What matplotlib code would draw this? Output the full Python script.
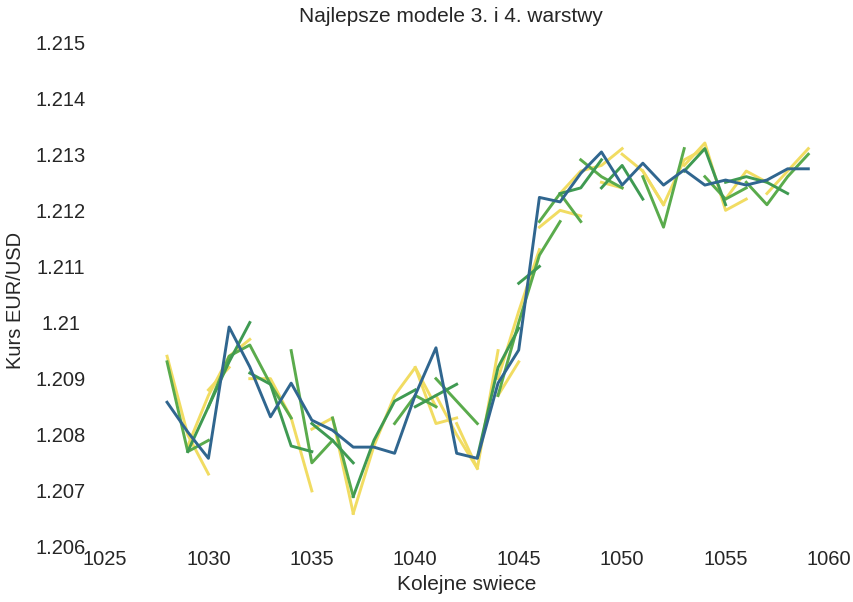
import matplotlib
matplotlib.use("Agg")
import matplotlib.pyplot as plt

plt.rcParams['font.family'] = ['Liberation Sans', 'DejaVu Sans']

# Actual EUR/USD series
actual_x = list(range(1028, 1060))
actual_y = [1.20858, 1.20805, 1.20758, 1.20992, 1.20921, 1.20832, 1.20892, 1.20826,
            1.20808, 1.20778, 1.20778, 1.20767, 1.20871, 1.20955, 1.20767, 1.20758,
            1.20892, 1.20951, 1.21223, 1.21215, 1.21266, 1.21304, 1.21245, 1.21284,
            1.21245, 1.21272, 1.21245, 1.21254, 1.21245, 1.21254, 1.21274, 1.21274]

# Prediction segments: (start candle, predicted values)
yellow_segments = [
    (1028, [1.2094, 1.2080, 1.2073]),
    (1029, [1.2078, 1.2087, 1.2094, 1.2097]),
    (1030, [1.2088, 1.2092]),
    (1032, [1.2090, 1.2090, 1.2083, 1.2070]),
    (1035, [1.2081, 1.2083, 1.2066]),
    (1037, [1.2066, 1.2078, 1.2087, 1.2092, 1.2085]),
    (1040, [1.2092, 1.2082, 1.2083]),
    (1041, [1.2087, 1.2080, 1.2074]),
    (1042, [1.2082, 1.2074, 1.2095]),
    (1044, [1.2087, 1.2093]),
    (1044, [1.2090, 1.2102, 1.2113]),
    (1046, [1.2117, 1.2120, 1.2119]),
    (1047, [1.2123, 1.2127, 1.2128, 1.2131]),
    (1049, [1.2125, 1.2124]),
    (1050, [1.2130, 1.2127, 1.2121]),
    (1051, [1.2127, 1.2121, 1.2129, 1.2131]),
    (1053, [1.2128, 1.2132, 1.2120, 1.2122]),
    (1055, [1.2122, 1.2127, 1.2125]),
    (1057, [1.2123, 1.2127, 1.2131]),
]

green_segments = [
    (1028, [1.2093, 1.2077, 1.2079]),
    (1030, [1.2085, 1.2094, 1.2096, 1.2089, 1.2083]),
    (1034, [1.2095, 1.2075, 1.2079]),
    (1036, [1.2083, 1.2069]),
    (1039, [1.2082, 1.2087, 1.2085]),
    (1041, [1.2090, 1.2086, 1.2082]),
    (1044, [1.2087, 1.2100, 1.2112, 1.2118]),
    (1046, [1.2118, 1.2123, 1.2118]),
    (1048, [1.2129, 1.2126, 1.2124]),
    (1051, [1.2126, 1.2117, 1.2131]),
    (1054, [1.2126, 1.2122, 1.2124]),
    (1056, [1.2125, 1.2121, 1.2126, 1.2130]),
]

dgreen_segments = [
    (1029, [1.2077, 1.2085, 1.2093, 1.2100]),
    (1032, [1.2091, 1.2089, 1.2078, 1.2077]),
    (1035, [1.2082, 1.2079, 1.2075]),
    (1037, [1.2069, 1.2079, 1.2086, 1.2088]),
    (1040, [1.2085, 1.2087, 1.2089]),
    (1043, [1.2076, 1.2092, 1.2099]),
    (1045, [1.2107, 1.2110]),
    (1047, [1.2123, 1.2124, 1.2129]),
    (1049, [1.2124, 1.2128, 1.2122]),
    (1053, [1.2127, 1.2131, 1.2121]),
    (1055, [1.2125, 1.2126, 1.2125, 1.2123]),
]

xtick_vals = [1025, 1030, 1035, 1040, 1045, 1050, 1055, 1060]
ytick_vals = [1.206, 1.207, 1.208, 1.209, 1.210, 1.211, 1.212, 1.213, 1.214, 1.215]
ytick_labels = ['1.206', '1.207', '1.208', '1.209', '1.21', '1.211', '1.212', '1.213', '1.214', '1.215']

BLUE = '#30668f'
YELLOW = '#f1dc62'
GREEN = '#5aab4c'
DGREEN = '#3f9a52'
TXT = '#262626'

fig = plt.figure(figsize=(8.54, 6.02), dpi=100)
ax = fig.add_axes([105/854, 1-547/602, 724/854, 505/602])

lw = 2.1
ax.plot(actual_x, actual_y, color=BLUE, lw=lw, zorder=3)
for start, vals in yellow_segments:
    ax.plot(range(start, start + len(vals)), vals, color=YELLOW, lw=lw, zorder=2)
for start, vals in green_segments:
    ax.plot(range(start, start + len(vals)), vals, color=GREEN, lw=lw, zorder=2)
for start, vals in dgreen_segments:
    ax.plot(range(start, start + len(vals)), vals, color=DGREEN, lw=lw, zorder=2)

ax.set_xlim(1025, 1060)
ax.set_ylim(1.206, 1.215)
ax.set_xticks(xtick_vals)
ax.set_xticklabels([str(v) for v in xtick_vals])
ax.set_yticks(ytick_vals)
ax.set_yticklabels(ytick_labels)
for s in ax.spines.values():
    s.set_visible(False)
ax.tick_params(length=0, labelsize=14.5, colors=TXT)
ax.tick_params(axis='x', pad=2.5)
ax.tick_params(axis='y', pad=32)
for lab in ax.get_yticklabels():
    lab.set_horizontalalignment('center')

fig.text(451/854, 1-17/602, 'Najlepsze modele 3. i 4. warstwy', fontsize=15,
         color=TXT, ha='center', va='center')
ax.set_xlabel('Kolejne swiece', fontsize=15, color=TXT)
ax.xaxis.set_label_coords((467-105)/724, -(585-547)/505)
ax.xaxis.label.set_va('center')
ax.set_ylabel('Kurs EUR/USD', fontsize=14.5, color=TXT)
ax.yaxis.set_label_coords(-(105-16)/724, (547-300)/505)
ax.yaxis.label.set_va('center')

fig.savefig('out.png', dpi=100, facecolor='white')
